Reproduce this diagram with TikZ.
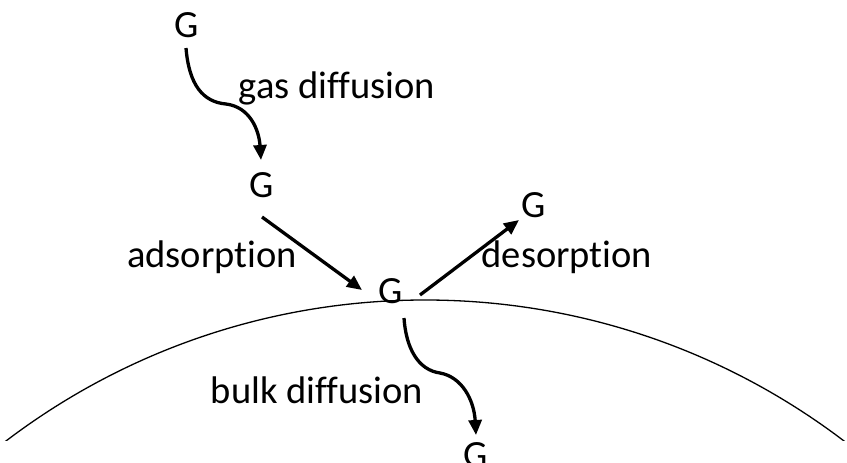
\documentclass[tikz,border=0pt]{standalone}
\usepackage{fontspec}
\setmainfont{Carlito}[Ligatures=NoCommon]
\usetikzlibrary{arrows.meta}
\begin{document}
\begin{tikzpicture}[x=1pt,y=-1pt,
  lbl/.style={font=\fontsize{38.5}{44}\selectfont, inner sep=0pt, anchor=base},
  arr/.style={line width=3.3pt, -{Triangle[length=15pt,width=13pt]}}]
\useasboundingbox (0,0) rectangle (847,463);
\begin{scope}
\clip (0,0) rectangle (847,440);
\draw[line width=1.3pt] (425,993) circle (693);
\end{scope}
\node[lbl] (g1) at (187,37) {G};
\node[lbl] (g2) at (262,197) {G};
\node[lbl] (g3) at (391,303) {G};
\node[lbl] (g4) at (534,217) {G};
\node[lbl] (g5) at (476,467) {G};
\node[lbl] (t1) at (337,98) {gas diffusion};
\node[lbl] (t2) at (212,267) {adsorption};
\node[lbl] (t3) at (567,267) {desorption};
\node[lbl] (t4) at (317,403) {bulk diffusion};
\coordinate (a1s) at (186,48);
\coordinate (a1e) at (261,160);
\draw[arr] (a1s) .. controls (189,85) and (203,102) .. (226,104) .. controls (250,107) and (259,130) .. (a1e);
\coordinate (a2s) at (262,217);
\coordinate (a2e) at (362,290);
\draw[arr] (a2s) -- (a2e);
\coordinate (a3s) at (420,295);
\coordinate (a3e) at (519,220);
\draw[arr] (a3s) -- (a3e);
\coordinate (a4s) at (404,318);
\coordinate (a4e) at (476,435);
\draw[arr] (a4s) .. controls (406,348) and (418,370) .. (440,373) .. controls (462,377) and (474,400) .. (a4e);
\end{tikzpicture}
\end{document}
